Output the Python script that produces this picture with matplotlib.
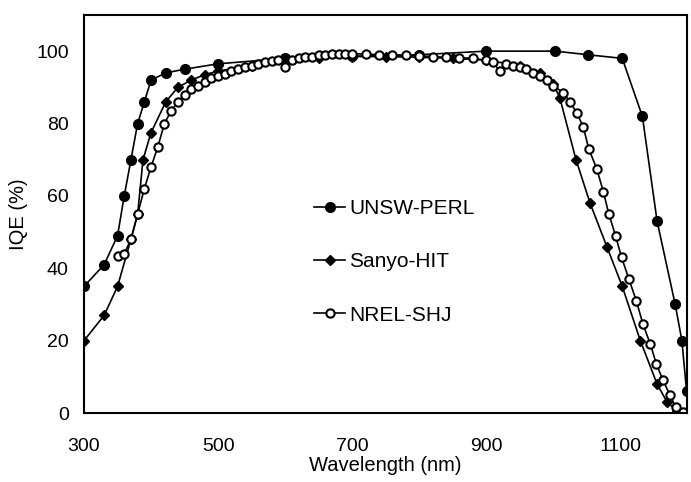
import numpy as np
from matplotlib import pyplot as plt

plt.rcParams['font.family'] = ['Liberation Sans', 'DejaVu Sans']

# ---------- UNSW-PERL
wl_perl = [300, 330, 350, 360, 370, 380, 390, 400, 422, 450, 500, 600, 700, 800,
           900, 1003, 1052, 1103, 1133, 1155, 1182, 1192, 1199]
iqe_perl = [35, 41, 49, 60, 70, 80, 86, 92, 94, 95, 96.5, 98, 98.6, 99,
            100, 100, 99, 98, 82, 53, 30, 20, 6]

# ---------- Sanyo-HIT
wl_hit = [300, 330, 350, 370, 380, 388, 400, 422, 440, 460, 480, 500, 550, 600,
          650, 700, 750, 800, 850, 900, 950, 980, 1000, 1010, 1034, 1055, 1080,
          1103, 1130, 1155, 1170, 1185]
iqe_hit = [20, 27, 35, 48, 55, 70, 77.5, 86, 90, 92, 93.5, 94.5, 96, 97,
           98, 98.5, 98.5, 98.3, 98, 97.5, 96, 94, 91, 87, 70, 58, 46,
           35, 20, 8, 3, 0.5]

# ---------- NREL-SHJ
wl_shj = [350, 360, 370, 380, 390, 400, 410, 420, 430, 440, 450, 460, 470, 480,
          490, 500, 510, 520, 530, 540, 550, 560, 570, 580, 590, 600, 610, 620,
          630, 640, 650, 660, 670, 680, 690, 700, 720, 740, 760, 780, 800, 820,
          840, 860, 880, 900, 910, 920, 930, 940, 950, 960, 970, 980, 990, 1000,
          1015, 1025, 1035, 1045, 1053, 1065, 1075, 1083, 1093, 1102, 1113, 1124,
          1134, 1145, 1154, 1164, 1174, 1183, 1194]
iqe_shj = [43.5, 44, 48, 55, 62, 68, 73.5, 80, 83.5, 86, 88, 89.5, 90.5, 91.5,
           92.5, 93, 93.8, 94.5, 95, 95.5, 96, 96.5, 97, 97.3, 97.5, 95.5, 97.5, 98,
           98.3, 98.5, 98.8, 99, 99.2, 99.3, 99.3, 99.3, 99.2, 99, 99, 98.8, 98.7, 98.5,
           98.3, 98.2, 98, 97.5, 97, 94.5, 96.5, 96, 95.5, 95, 94, 93, 92, 90.5,
           88.5, 86, 83, 79, 73, 67.5, 61, 55, 49, 43, 37, 31,
           24.5, 19, 13.5, 9, 5, 1.6, 0.2]

xticks = [300, 500, 700, 900, 1100]
yticks = [0, 20, 40, 60, 80, 100]

fig = plt.figure(figsize=(6.91, 4.82), dpi=100)
ax = fig.add_axes([0.1216, 0.143, 0.873, 0.826])

ax.plot(wl_perl, iqe_perl, '-o', color='black', lw=1.2, ms=7, label='UNSW-PERL')
ax.plot(wl_hit, iqe_hit, '-D', color='black', lw=1.2, ms=5, label='Sanyo-HIT')
ax.plot(wl_shj, iqe_shj, '-o', color='black', lw=1.2, ms=6, mfc='white', mew=1.5,
        label='NREL-SHJ')

ax.set_xlim(300, 1200)
ax.set_ylim(0, 110)
ax.set_xticks(xticks)
ax.set_yticks(yticks)
ax.tick_params(length=0, labelsize=14)
ax.tick_params(axis='x', pad=18)
ax.tick_params(axis='y', pad=11)
for s in ax.spines.values():
    s.set_linewidth(1.5)

ax.set_xlabel('Wavelength (nm)', fontsize=14.5, labelpad=1)
ax.set_ylabel('IQE (%)', fontsize=14.5, labelpad=6)

ax.legend(loc='center left', bbox_to_anchor=(0.35, 0.38), frameon=False,
          fontsize=15, labelspacing=1.65, handlelength=1.5, handletextpad=0.2)

plt.savefig('out.png', dpi=100)
